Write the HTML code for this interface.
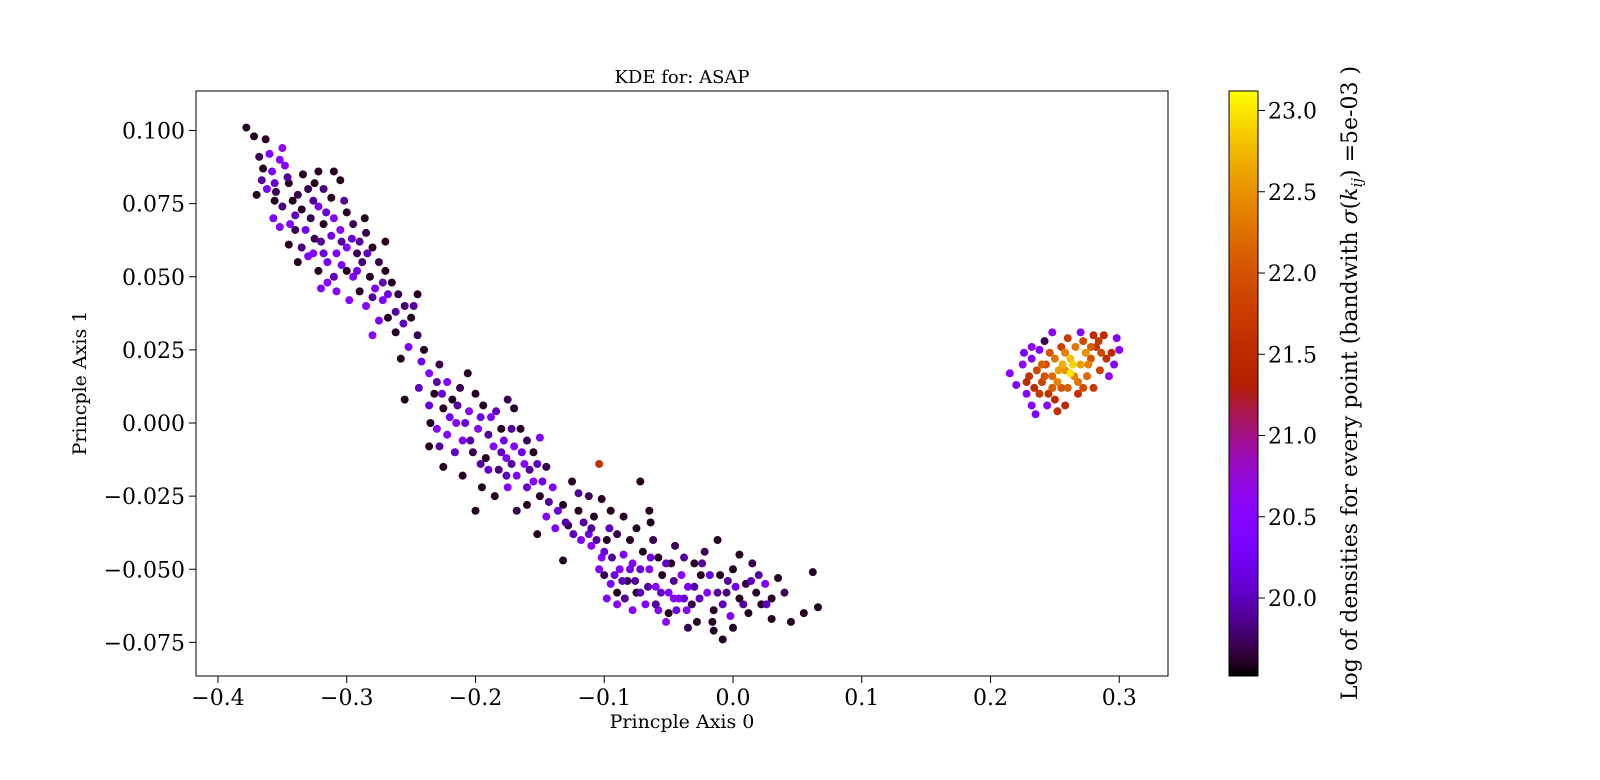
<!DOCTYPE html>
<html><head><meta charset="utf-8"><style>
body{margin:0;background:#fff}
svg text{font-family:"DejaVu Serif","Liberation Serif",serif;fill:#000}
</style></head><body>
<svg id="chart" width="1600" height="775" xmlns="http://www.w3.org/2000/svg">
<defs><linearGradient id="cbg" x1="0" y1="1" x2="0" y2="0"></linearGradient></defs>
<text x="682" y="83" font-size="18" text-anchor="middle">KDE for: ASAP</text>
<g id="marks"></g>
<rect x="196" y="91" width="972" height="585" fill="none" stroke="#000" stroke-width="1"/>
<g id="xt"></g>
<g id="yt"></g>
<text x="682" y="728" font-size="19" text-anchor="middle">Princple Axis 0</text>
<text transform="translate(86,383) rotate(-90)" font-size="19" text-anchor="middle">Princple Axis 1</text>
<rect x="1229" y="91" width="29" height="585" fill="url(#cbg)" stroke="#000" stroke-width="1"/>
<g id="ct"></g>
<text transform="translate(1357,383) rotate(-90)" font-size="22" text-anchor="middle">Log of densities for every point (bandwith <tspan font-style="italic">σ</tspan>(<tspan font-style="italic">k</tspan><tspan font-style="italic" font-size="15" dy="5">ij</tspan><tspan dy="-5">) =5e-03 )</tspan></text>
</svg>
<script>
const xTicks=[-0.4,-0.3,-0.2,-0.1,0.0,0.1,0.2,0.3];
const yTicks=[0.100,0.075,0.050,0.025,0.000,-0.025,-0.050,-0.075];
const cTicks=[20.0,20.5,21.0,21.5,22.0,22.5,23.0];
const cMin=19.52, cMax=23.12;
// [x, y, logDensity]
const bandPoints=[
[-0.378,0.101,19.6],[-0.372,0.098,19.6],[-0.363,0.097,19.6],[-0.368,0.091,19.7],[-0.360,0.092,20.4],[-0.352,0.090,20.5],[-0.358,0.086,20.4],[-0.365,0.087,19.6],[-0.348,0.088,20.5],[-0.362,0.080,20.3],
[-0.370,0.078,19.6],[-0.355,0.079,19.7],[-0.345,0.082,19.6],[-0.338,0.078,19.7],[-0.350,0.074,19.8],[-0.357,0.070,20.4],[-0.352,0.067,20.5],[-0.342,0.076,19.6],[-0.335,0.073,19.6],[-0.330,0.080,19.7],
[-0.325,0.082,19.6],[-0.318,0.080,19.8],[-0.310,0.086,19.6],[-0.305,0.083,19.6],[-0.312,0.077,19.6],[-0.322,0.074,20.3],[-0.328,0.070,19.7],[-0.340,0.066,19.7],[-0.345,0.061,19.6],[-0.335,0.060,19.8],
[-0.338,0.055,19.6],[-0.330,0.057,20.4],[-0.325,0.063,19.7],[-0.318,0.068,19.6],[-0.310,0.070,20.4],[-0.305,0.066,20.5],[-0.300,0.072,19.6],[-0.295,0.068,19.7],[-0.300,0.060,20.5],[-0.308,0.058,20.4],
[-0.315,0.055,20.3],[-0.322,0.052,19.6],[-0.315,0.048,20.5],[-0.308,0.045,20.4],[-0.300,0.052,19.6],[-0.292,0.058,19.7],[-0.285,0.065,19.7],[-0.280,0.060,19.6],[-0.288,0.055,19.8],[-0.295,0.050,20.4],
[-0.298,0.042,20.5],[-0.290,0.045,19.6],[-0.282,0.050,19.6],[-0.275,0.055,19.7],[-0.270,0.052,19.6],[-0.278,0.046,20.3],[-0.285,0.040,20.5],[-0.272,0.042,20.4],[-0.265,0.048,19.6],[-0.260,0.044,19.7],
[-0.268,0.036,19.6],[-0.275,0.035,20.4],[-0.280,0.030,20.5],[-0.262,0.031,19.6],[-0.255,0.040,19.8],[-0.250,0.036,19.6],[-0.245,0.044,19.6],[-0.245,0.030,19.7],[-0.252,0.026,20.4],[-0.258,0.022,19.6],
[-0.240,0.025,19.6],[-0.236,0.017,20.5],[-0.232,0.010,19.6],[-0.228,0.020,19.7],[-0.225,0.005,19.6],[-0.222,0.014,20.4],[-0.218,0.008,19.6],[-0.212,0.012,19.7],[-0.206,0.017,19.6],[-0.200,0.010,19.6],
[-0.215,0.000,20.5],[-0.222,-0.004,20.4],[-0.230,-0.002,20.5],[-0.236,-0.008,19.6],[-0.210,-0.006,20.4],[-0.205,0.004,20.5],[-0.198,-0.002,20.5],[-0.202,-0.010,19.7],[-0.194,0.006,19.6],[-0.188,0.002,20.4],
[-0.192,-0.012,19.6],[-0.186,-0.008,20.5],[-0.180,-0.002,19.6],[-0.175,0.008,19.7],[-0.170,0.005,19.6],[-0.182,-0.016,19.8],[-0.176,-0.012,20.4],[-0.170,-0.008,20.5],[-0.165,-0.002,19.6],[-0.160,-0.006,19.7],
[-0.168,-0.018,20.4],[-0.175,-0.022,20.5],[-0.185,-0.025,19.6],[-0.195,-0.022,19.6],[-0.210,-0.018,19.6],[-0.225,-0.015,19.6],[-0.162,-0.014,20.5],[-0.155,-0.010,19.6],[-0.150,-0.005,20.4],[-0.155,-0.020,20.5],
[-0.160,-0.028,19.6],[-0.168,-0.030,19.7],[-0.150,-0.025,19.6],[-0.145,-0.015,19.7],[-0.140,-0.022,20.4],[-0.145,-0.032,20.5],[-0.152,-0.038,19.6],[-0.138,-0.036,20.4],[-0.132,-0.028,19.6],[-0.125,-0.020,19.6],
[-0.128,-0.035,19.7],[-0.120,-0.030,19.6],[-0.118,-0.040,20.4],[-0.112,-0.025,19.7],[-0.108,-0.032,19.6],[-0.110,-0.042,20.5],[-0.102,-0.046,20.5],[-0.098,-0.040,19.6],[-0.095,-0.030,19.6],[-0.090,-0.038,19.7],
[-0.085,-0.045,20.4],[-0.080,-0.040,19.6],[-0.075,-0.036,19.6],[-0.072,-0.020,19.6],[-0.088,-0.050,20.5],[-0.095,-0.055,20.4],[-0.100,-0.052,19.7],[-0.098,-0.060,20.4],[-0.090,-0.058,19.6],[-0.082,-0.054,19.7],
[-0.078,-0.048,20.5],[-0.070,-0.044,19.6],[-0.065,-0.050,20.5],[-0.062,-0.040,19.7],[-0.058,-0.046,19.6],[-0.075,-0.058,19.6],[-0.068,-0.062,20.4],[-0.060,-0.056,20.5],[-0.055,-0.052,19.6],[-0.050,-0.058,20.4],
[-0.048,-0.048,19.6],[-0.045,-0.042,19.7],[-0.040,-0.052,20.5],[-0.042,-0.060,20.5],[-0.050,-0.065,19.6],[-0.058,-0.064,20.5],[-0.035,-0.056,20.4],[-0.030,-0.048,19.6],[-0.032,-0.062,19.7],[-0.025,-0.052,19.6],
[-0.022,-0.044,19.7],[-0.020,-0.058,20.5],[-0.015,-0.064,19.6],[-0.028,-0.068,19.6],[-0.035,-0.070,19.7],[-0.010,-0.052,19.6],[-0.005,-0.058,19.8],[0.000,-0.050,19.6],[-0.002,-0.066,20.4],[0.005,-0.060,19.6],
[0.010,-0.055,19.7],[0.012,-0.065,19.6],[0.018,-0.058,19.6],[0.015,-0.048,19.7],[0.022,-0.062,19.6],[0.025,-0.055,20.4],[0.030,-0.060,19.6],[0.035,-0.053,19.6],[0.040,-0.058,19.7],[0.045,-0.068,19.6],
[0.055,-0.065,19.6],[0.062,-0.051,19.6],[0.066,-0.063,19.6],[0.030,-0.067,19.6],[-0.008,-0.074,19.6],[-0.015,-0.071,19.6],[0.005,-0.045,19.6],[-0.012,-0.040,19.6],[-0.065,-0.030,19.6],[-0.132,-0.047,19.6],
[-0.200,-0.030,19.6],[-0.255,0.008,19.6],[-0.235,0.000,19.6],
[-0.366,0.083,19.9],[-0.356,0.082,20.1],[-0.346,0.084,19.9],[-0.340,0.071,20.0],[-0.332,0.066,20.2],[-0.326,0.076,19.9],[-0.316,0.072,20.1],[-0.320,0.062,19.9],[-0.312,0.064,20.2],[-0.304,0.062,19.9],
[-0.302,0.076,19.9],[-0.296,0.063,20.1],[-0.290,0.062,19.9],[-0.284,0.058,20.0],[-0.292,0.052,20.2],[-0.304,0.054,20.3],[-0.310,0.050,20.0],[-0.318,0.058,20.1],[-0.280,0.043,19.9],[-0.272,0.048,20.0],
[-0.268,0.044,20.2],[-0.262,0.038,19.9],[-0.256,0.034,20.0],[-0.248,0.040,19.9],[-0.242,0.021,20.2],[-0.230,0.014,19.9],[-0.226,0.010,20.1],[-0.220,0.002,20.3],[-0.214,0.006,19.9],[-0.208,0.000,20.1],
[-0.204,-0.006,19.9],[-0.196,0.002,20.2],[-0.190,-0.004,19.9],[-0.184,0.004,20.0],[-0.178,-0.006,20.2],[-0.172,-0.002,19.9],[-0.190,-0.016,20.1],[-0.180,-0.010,20.0],[-0.172,-0.014,19.9],[-0.164,-0.010,20.2],
[-0.158,-0.016,19.9],[-0.160,-0.022,20.1],[-0.152,-0.014,20.0],[-0.148,-0.020,20.2],[-0.143,-0.027,19.9],[-0.136,-0.030,20.1],[-0.130,-0.034,19.9],[-0.124,-0.038,20.0],[-0.116,-0.034,19.9],[-0.112,-0.038,20.2],
[-0.106,-0.040,19.9],[-0.104,-0.050,20.4],[-0.100,-0.044,20.1],[-0.094,-0.046,19.9],[-0.092,-0.052,20.2],[-0.086,-0.054,20.0],[-0.084,-0.060,19.9],[-0.080,-0.050,20.2],[-0.076,-0.054,19.9],[-0.072,-0.050,20.1],
[-0.072,-0.058,20.0],[-0.066,-0.056,19.9],[-0.064,-0.046,20.2],[-0.060,-0.062,19.9],[-0.056,-0.058,20.1],[-0.052,-0.048,20.0],[-0.046,-0.054,19.9],[-0.044,-0.064,20.2],[-0.038,-0.046,19.9],[-0.038,-0.060,20.1],
[-0.030,-0.056,19.9],[-0.026,-0.060,20.0],[-0.024,-0.048,19.9],[-0.018,-0.052,20.1],[-0.012,-0.058,19.9],[-0.008,-0.062,20.0],[-0.004,-0.054,19.9],[0.002,-0.056,20.2],[0.008,-0.062,19.9],[0.014,-0.054,20.0],
[0.020,-0.052,19.9],[0.026,-0.062,20.0],[-0.110,-0.036,19.9],[-0.096,-0.036,20.0],[-0.120,-0.024,19.9],[-0.176,-0.018,20.0],[-0.196,-0.014,19.9],[-0.216,-0.010,20.0],[-0.228,-0.008,19.9],[-0.236,0.006,20.1],
[-0.244,0.012,20.0],[-0.270,0.062,19.6],[-0.286,0.070,19.6],[-0.334,0.085,19.6],[-0.322,0.086,19.6],[-0.350,0.094,20.6],[-0.356,0.076,19.6],[-0.344,0.068,20.5],[-0.326,0.058,20.5],[-0.320,0.046,20.4],
[-0.090,-0.062,20.5],[-0.078,-0.064,20.5],[-0.052,-0.068,20.6],[-0.046,-0.060,20.6],[-0.036,-0.064,20.5],[-0.064,-0.034,19.6],[-0.085,-0.032,19.6],[-0.102,-0.026,19.6],[-0.016,-0.068,19.6],[0.000,-0.070,19.6]
];
const clusterPoints=[
[0.215,0.017,20.5],[0.220,0.013,20.4],[0.225,0.020,20.6],[0.228,0.010,20.5],[0.232,0.006,20.5],[0.235,0.003,20.4],[0.232,0.022,20.5],[0.238,0.025,20.4],[0.242,0.028,19.7],[0.248,0.031,20.5],
[0.245,0.010,21.6],[0.240,0.014,21.8],[0.236,0.018,21.9],[0.250,0.008,21.5],[0.255,0.012,22.0],[0.248,0.016,22.2],[0.243,0.020,21.9],[0.250,0.022,22.3],[0.255,0.026,21.8],[0.258,0.018,22.5],
[0.262,0.022,22.8],[0.265,0.016,22.4],[0.260,0.012,22.1],[0.268,0.010,21.6],[0.270,0.020,22.6],[0.266,0.026,22.3],[0.272,0.028,21.9],[0.275,0.016,22.2],[0.278,0.022,22.0],[0.280,0.012,21.7],
[0.282,0.026,21.6],[0.285,0.018,21.8],[0.288,0.030,21.5],[0.290,0.022,21.6],[0.292,0.016,20.6],[0.296,0.020,20.5],[0.300,0.025,20.5],[0.298,0.029,20.4],[0.280,0.030,21.5],[0.270,0.031,20.5],
[0.260,0.029,21.7],[0.252,0.004,21.6],[0.258,0.006,21.5],[0.244,0.006,20.5],[0.238,0.010,21.7],[0.230,0.016,21.6],[0.226,0.024,20.4],[0.262,0.017,23.0],[0.256,0.020,22.7],[0.252,0.014,22.4],
[0.246,0.024,22.0],[0.274,0.024,22.5],[0.286,0.024,21.9],[0.240,0.020,22.1],[0.242,0.016,22.0],[0.253,0.018,22.6],[0.264,0.020,22.9],[0.268,0.014,22.3],[0.276,0.020,22.4],[0.272,0.012,21.9],
[0.284,0.028,21.7],[0.278,0.026,22.1],[0.234,0.012,21.5],[0.248,0.012,22.1],[0.258,0.024,22.4],[0.232,0.026,20.6],[0.294,0.024,21.5],[0.228,0.014,21.5],[-0.104,-0.014,21.6]
];
const NS='http://www.w3.org/2000/svg';
const X=v=>733+v*1287.5;
const Y=v=>423-v*2925;
const CY=v=>676-(v-cMin)/(cMax-cMin)*585;
function cmap(v){let t=Math.max(0,Math.min(1,(v-cMin)/(cMax-cMin)));
 const r=Math.sqrt(t),g=t*t*t,b=Math.max(0,Math.sin(2*Math.PI*t));
 return `rgb(${Math.round(r*255)},${Math.round(g*255)},${Math.round(b*255)})`;}
function el(tag,attrs,parent){const e=document.createElementNS(NS,tag);for(const k in attrs)e.setAttribute(k,attrs[k]);parent.appendChild(e);return e;}
const marks=document.getElementById('marks');
bandPoints.concat(clusterPoints).forEach(p=>{
 const c=el('circle',{cx:X(p[0]),cy:Y(p[1]),r:4,fill:cmap(p[2])},marks);
 
 
});
const xt=document.getElementById('xt');
xTicks.forEach(v=>{const x=X(v);
 el('line',{x1:x,x2:x,y1:676,y2:683,stroke:'#000'},xt);
 const t=el('text',{x:x,y:705,'font-size':22,'text-anchor':'middle'},xt);
 t.textContent=(v<0?'\u2212':'')+Math.abs(v).toFixed(1);
 
 });
const yt=document.getElementById('yt');
yTicks.forEach(v=>{const y=Y(v);
 el('line',{x1:189,x2:196,y1:y,y2:y,stroke:'#000'},yt);
 const t=el('text',{x:185,y:y+8,'font-size':22,'text-anchor':'end'},yt);
 t.textContent=(v<0?'\u2212':'')+Math.abs(v).toFixed(3);
 
 });
const g=document.getElementById('cbg');
for(let i=0;i<=40;i++){const v=cMin+(cMax-cMin)*i/40;el('stop',{offset:(i/40),'stop-color':cmap(v)},g);}
const ct=document.getElementById('ct');
cTicks.forEach(v=>{const y=CY(v);
 el('line',{x1:1258,x2:1265,y1:y,y2:y,stroke:'#000'},ct);
 const t=el('text',{x:1268,y:y+8,'font-size':22},ct);
 t.textContent=v.toFixed(1);
 
 });
</script>
</body></html>
